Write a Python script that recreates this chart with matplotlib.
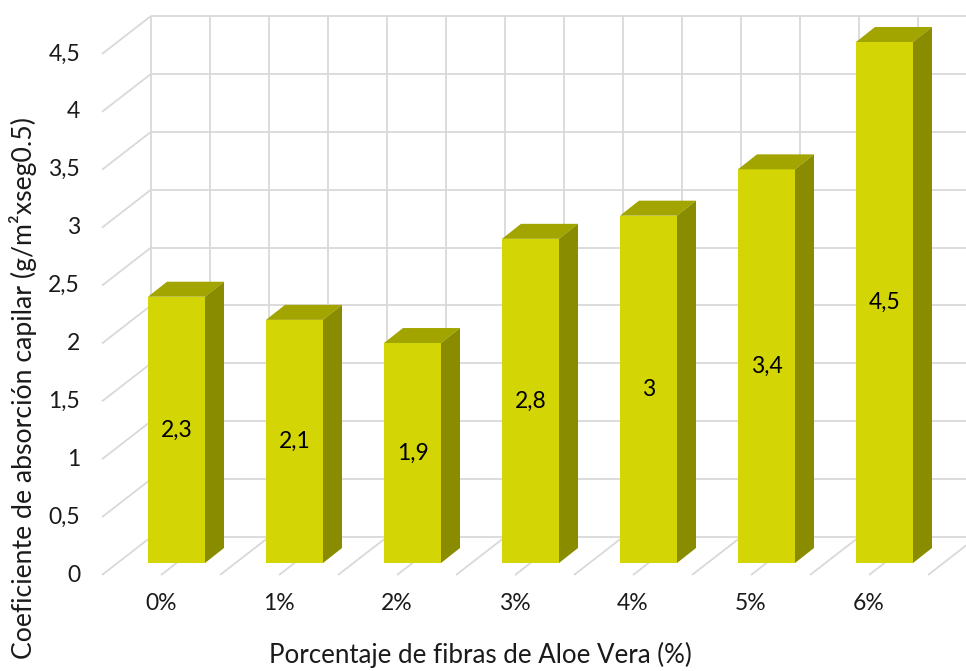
import numpy as np
import matplotlib
matplotlib.use("Agg")
import matplotlib.pyplot as plt
from matplotlib.patches import Polygon

plt.rcParams['font.family'] = ['Lato', 'DejaVu Sans']

# DATA
categorias = ['0%', '1%', '2%', '3%', '4%', '5%', '6%']
valores = [2.3, 2.1, 1.9, 2.8, 3.0, 3.4, 4.5]
etiquetas = ['2,3', '2,1', '1,9', '2,8', '3', '3,4', '4,5']
yticks = [0, 0.5, 1, 1.5, 2, 2.5, 3, 3.5, 4, 4.5]
ytick_labels = ['0', '0,5', '1', '1,5', '2', '2,5', '3', '3,5', '4', '4,5']

# colors
c_front = '#D3D604'
c_top = '#A2A500'
c_side = '#8A8C00'
c_grid = '#D9D9D9'

W, H = 966, 671
fig = plt.figure(figsize=(W / 100, H / 100), dpi=100)
# axes = plane of the bars front faces (pixels measured on the reference)
left_px, right_px, top_px, bot_px = 117.5, 943.5, 42, 563
ax = fig.add_axes([left_px / W, (H - bot_px) / H, (right_px - left_px) / W, (bot_px - top_px) / H])
ax.set_xlim(-0.5, 6.5)
ax.set_ylim(0, 4.5)
ax.axis('off')

ux = (right_px - left_px) / 7      # px per category
uy = (bot_px - top_px) / 4.5       # px per unit


def off(px, py):
    # pixel offset (image coords, y down) -> data offset
    return px / ux, -py / uy


bx, by = off(33.5, -26)    # back wall
fx, fy = off(-15.5, 12)    # front edge
dx, dy = off(19, -15)      # bar depth

grid_kw = dict(color=c_grid, lw=1.3, clip_on=False, zorder=1, solid_capstyle='butt')

# back wall
for v in yticks:
    ax.plot([-0.5 + bx, 7.5 + bx], [v + by, v + by], **grid_kw)
for k in np.arange(-0.5, 7.0, 0.5):
    ax.plot([k + bx, k + bx], [by, 4.5 + by], **grid_kw)
# left wall
for v in yticks:
    ax.plot([-0.5 + fx, -0.5 + bx], [v + fy, v + by], **grid_kw)
# floor
for k in np.arange(0, 7.5, 0.5):
    ax.plot([k + fx, k + bx], [fy, by], **grid_kw)

# bars
x = np.arange(len(categorias))
w = 57 / ux
ax.bar(x, valores, width=w, color=c_front, zorder=3, clip_on=False)
for xi, v in zip(x, valores):
    top = [(xi - w / 2, v), (xi + w / 2, v), (xi + w / 2 + dx, v + dy), (xi - w / 2 + dx, v + dy)]
    side = [(xi + w / 2, 0), (xi + w / 2, v), (xi + w / 2 + dx, v + dy), (xi + w / 2 + dx, dy)]
    ax.add_patch(Polygon(top, closed=True, facecolor=c_top, edgecolor='none', zorder=3, clip_on=False))
    ax.add_patch(Polygon(side, closed=True, facecolor=c_side, edgecolor='none', zorder=3, clip_on=False))

for xi, v, t in zip(x, valores, etiquetas):
    ax.text(xi, v / 2, t, ha='center', va='center', fontsize=16.5, color='black', zorder=5)

# tick labels (front plane)
for v, t in zip(yticks, ytick_labels):
    ax.text(-0.5 + fx - 22 / ux, v + fy, t, ha='right', va='center', fontsize=16.5, color='#1a1a1a')
for xi, t in zip(x, categorias):
    ax.text(xi + fx, -40 / uy, t, ha='center', va='center', fontsize=16.5, color='#1a1a1a')

fig.text(480 / W, 1 - 655 / H, 'Porcentaje de fibras de Aloe Vera (%)', ha='center', va='center',
         fontsize=18.6, color='#1a1a1a')
fig.text(23 / W, 1 - 388 / H, 'Coeficiente de absorción capilar (g/m²xseg0.5)', ha='center', va='center',
         rotation=90, fontsize=19.2, color='#1a1a1a')

fig.savefig('out.png', dpi=100)
